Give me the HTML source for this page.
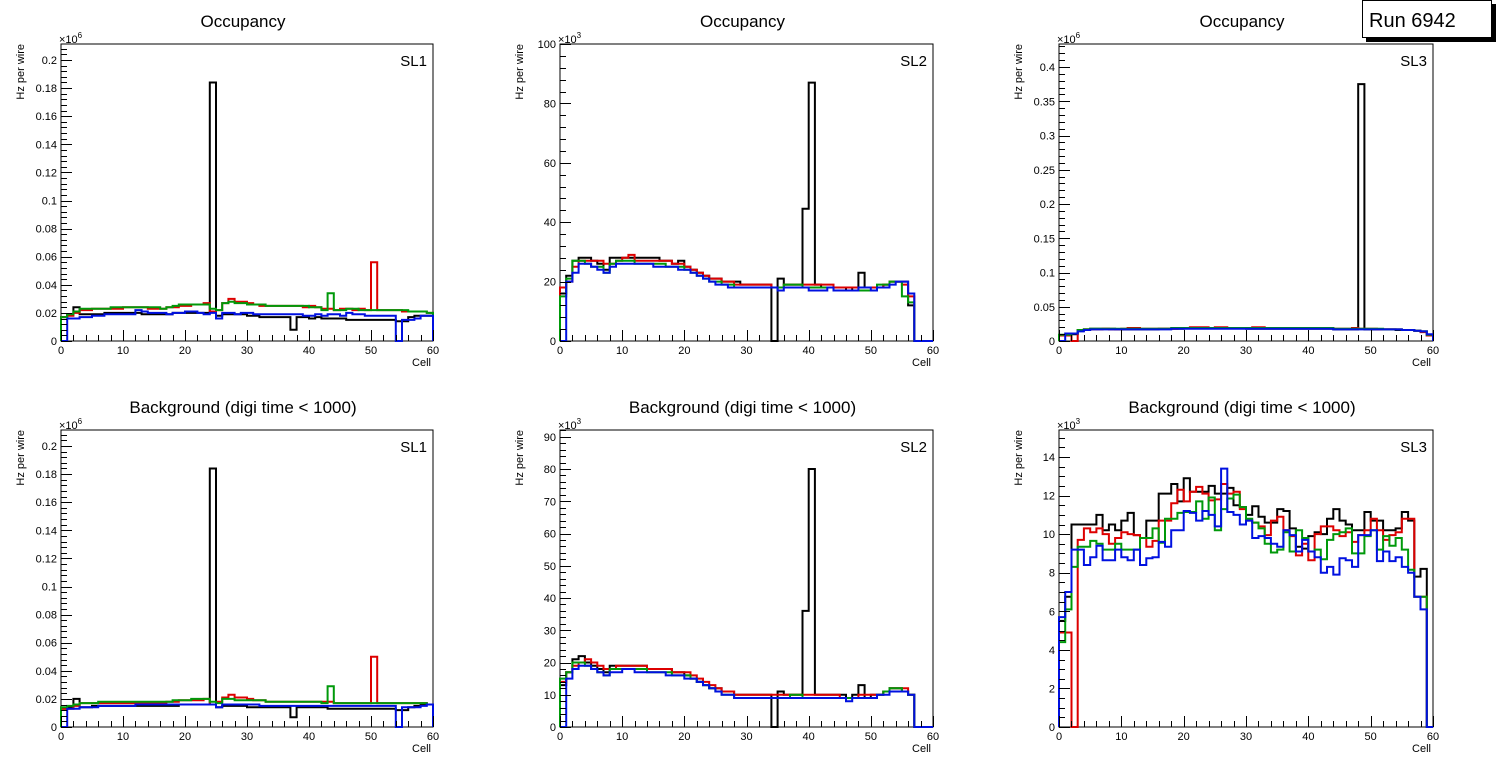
<!DOCTYPE html>
<html><head><meta charset="utf-8"><style>
body{margin:0;background:#fff;}
svg{display:block;font-family:"Liberation Sans",sans-serif;}
</style></head><body>
<svg id="c" width="1496" height="772" viewBox="0 0 1496 772"></svg>
<script>
// ---- data (values in plotted units) ----
const cells = Array.from({length:60},(_,i)=>i);
const seriesNames = ["black","red","green","blue"];
// Panel 1: Occupancy SL1 (units: 10^3 Hz, axis labels in 10^6)
const occSL1Black=[17,19,24,19,19,19,19,20,20,20,20,20,20,19,19,19,19,19,20,20,20,20,20,20,184,18,19,19,19,19,18,18,17,17,17,17,17,8,17,17,16,17,16,16,16,16,15,15,15,15,15,15,15,15,14,14,17,18,18,18];
const occSL1Red=[17,18,20,22,22,23,23,23,23,23,24,24,24,24,23,23,23,24,24,25,25,26,26,27,21,22,27,30,28,28,27,26,25,25,25,25,25,25,25,24,25,24,23,23,22,23,23,22,23,22,56,22,22,22,22,21,21,21,21,20];
const occSL1Green=[17,19,21,23,23,23,23,23,24,24,24,24,24,24,24,24,23,24,25,26,26,26,26,26,23,22,27,28,27,27,26,26,26,25,25,25,25,25,25,25,24,24,22,34,22,22,23,23,22,22,22,22,22,22,22,22,21,21,21,20];
const occSL1Blue=[0,16,16,17,17,18,18,19,19,19,19,19,22,21,20,20,20,19,20,20,21,21,20,19,20,16,20,20,19,20,20,19,19,19,19,19,19,19,19,18,18,19,18,19,19,18,20,19,19,18,18,18,18,18,0,15,15,16,18,18];
// Panel 2: Occupancy SL2 (units 10^3)
const occSL2Black=[16,22,27,28,28,27,26,24,28,28,28,28,28,28,28,28,27,27,26,27,25,24,23,22,21,21,20,20,20,19,19,19,19,19,0,21,19,19,19,44.5,87,19,18,18,18,18,17,18,23,18,18,18,19,20,20,20,12,0,0,0];
const occSL2Red=[18,20,25,27,27,27,27,26,26,27,28,29,27,27,27,27,27,27,26,26,25,24,23,22,21,21,20,20,19,19,19,19,19,19,18,18,19,19,19,19,19,19,19,19,18,18,18,18,18,18,18,18,19,20,20,19,15,0,0,0];
const occSL2Green=[15,21,27,27,26,25,25,23,26,27,27,27,26,26,26,26,26,25,25,25,24,23,22,21,20,20,19,19,18,18,18,18,18,18,18,18,19,19,19,18,18,18,18,18,17,17,17,17,17,17,17,19,19,20,20,15,13,0,0,0];
const occSL2Blue=[0,20,23,26,26,25,24,23,25,26,26,26,26,26,26,25,25,25,25,24,24,23,22,21,20,19,19,18,18,18,18,18,18,18,18,17,18,18,18,18,17,17,17,18,17,17,17,17,18,18,17,18,18,19,20,20,16,0,0,0];
// Panel 3: Occupancy SL3 (units 10^3 Hz, axis labels in 10^6)
const occSL3Black=[8,8,10,16,17,18,18,18,18,17,17,17,17,17,17,17,18,18,18,18,19,19,19,19,19,19,19,19,19,19,18,18,18,18,18,18,18,18,18,18,18,18,18,18,17,17,17,17,375,17,17,17,17,17,16,16,16,15,14,8];
const occSL3Red=[8,8,0,15,17,17,17,18,17,17,18,19,19,18,18,18,18,18,18,19,19,20,20,20,19,20,20,19,19,19,19,20,20,19,19,19,19,19,19,19,19,19,19,19,18,18,18,19,18,18,18,17,17,17,17,16,16,15,13,8];
const occSL3Green=[9,9,11,16,17,18,18,18,18,18,18,18,18,18,18,18,18,18,19,19,19,19,19,19,19,19,19,19,19,19,19,19,19,19,19,19,19,19,19,19,19,19,19,19,18,18,18,18,18,18,18,18,17,17,17,16,16,15,14,9];
const occSL3Blue=[0,11,11,14,16,17,17,17,17,17,17,17,17,17,17,17,17,17,18,18,18,18,18,18,18,18,18,18,18,18,18,18,18,18,18,18,18,18,18,18,18,18,18,18,17,17,17,17,17,17,17,17,17,17,17,16,16,15,14,10];
// Panel 4: Background SL1
const bkgSL1Black=[13,14,20,14,14,15,15,15,15,15,15,15,15,15,15,15,15,15,15,16,16,16,16,16,184,14,15,15,15,15,14,14,14,14,14,14,14,7,14,14,14,14,14,13,13,13,13,13,13,13,13,13,13,13,12,12,14,15,16,16];
const bkgSL1Red=[13,13,15,17,17,17,17,17,17,17,17,17,17,17,17,17,17,18,18,19,19,19,19,20,16,18,21,23,21,21,20,19,19,18,18,18,18,18,18,18,18,18,18,18,17,17,17,17,17,17,50,17,17,17,17,17,17,17,17,16];
const bkgSL1Green=[14,15,16,17,17,17,18,18,18,18,18,18,18,18,18,18,18,18,19,19,19,20,20,20,18,17,20,20,19,19,19,19,19,18,18,18,18,18,18,18,18,18,17,29,17,17,17,17,17,17,17,17,17,17,17,17,17,17,17,16];
const bkgSL1Blue=[0,13,13,14,14,14,15,15,15,15,15,15,16,16,16,16,16,16,16,16,16,16,16,16,16,14,16,16,16,16,16,16,15,15,15,15,15,15,15,15,15,15,15,15,15,15,15,15,15,15,15,15,15,15,0,14,14,14,15,16];
// Panel 5: Background SL2
const bkgSL2Black=[13,17,21,22,20,19,18,17,19,19,19,19,19,19,18,18,18,18,17,17,16,15,14,13,12,12,11,11,10,10,10,10,10,10,0,11,10,10,10,36,80,10,10,10,10,10,9,10,13,9,10,10,11,12,12,11,10,0,0,0];
const bkgSL2Red=[14,17,19,20,21,20,19,18,18,19,19,19,19,19,18,18,18,18,17,17,17,16,15,14,13,12,11,11,10,10,10,10,10,10,10,10,10,10,10,10,10,10,10,10,10,9,9,9,10,10,10,10,11,12,12,12,10,0,0,0];
const bkgSL2Green=[15,17,20,20,19,18,17,16,18,18,18,18,18,18,17,17,17,17,16,16,16,15,14,13,12,11,10,10,9,9,9,9,9,9,9,9,9,10,10,9,9,9,9,9,9,9,9,9,9,9,9,10,11,12,12,11,10,0,0,0];
const bkgSL2Blue=[0,15,18,19,19,18,17,16,17,17,18,18,17,17,17,17,17,16,16,16,15,15,14,13,12,11,10,10,9,9,9,9,9,9,9,9,9,9,9,9,9,9,9,9,9,9,8,9,9,9,9,10,10,11,11,11,10,0,0,0];
// Panel 6: Background SL3 (units 10^3)
const bkgSL3Black=[5.5,6.75,10.5,10.5,10.5,10.5,11.0,10.2,10.5,10.2,10.7,11.1,9.95,9.8,10.7,10.7,12.1,12.1,12.6,11.7,12.9,12.2,12.2,12.2,12.5,12.1,12.1,12.4,11.5,11.4,11.0,11.45,10.9,10.6,10.6,11.3,11.2,10.3,9.35,9.25,9.9,10.1,10.0,10.8,11.3,10.7,10.5,10.2,10.2,11.15,10.7,10.7,10.2,10.2,10.3,11.15,10.7,7.8,8.2,0];
const bkgSL3Red=[4.9,4.9,0,9.7,10.3,10.1,10.3,10.0,9.5,9.8,10.1,10.0,9.95,9.8,9.35,9.65,10.7,10.7,11.6,12.3,11.7,12.2,12.45,12.1,11.75,11.8,12.6,12.1,12.2,11.3,10.7,10.6,10.4,9.95,10.7,10.9,10.2,9.9,8.9,9.5,8.65,10.0,10.4,10.4,10.2,9.9,10.1,9.6,9.95,10.2,10.8,10.2,9.7,9.95,10.1,10.8,10.8,6.75,6.75,0];
const bkgSL3Green=[4.4,6.1,8.3,9.35,9.35,9.65,9.5,9.2,9.2,9.5,9.2,9.2,9.2,9.8,9.8,10.3,9.55,10.8,10.8,11.1,11.15,11.15,11.7,10.8,11.9,10.2,11.3,11.85,12.05,11.4,10.8,10.6,10.3,9.5,9.05,9.2,10.1,9.1,10.2,9.8,9.1,9.2,8.7,9.7,10.0,10.1,10.3,9.0,9.0,9.9,10.2,9.2,9.9,9.4,9.8,9.2,8.15,6.75,6.75,0];
const bkgSL3Blue=[5.7,7.0,9.2,9.2,8.4,8.8,9.4,8.65,8.65,9.2,8.8,8.65,9.2,8.4,8.75,8.8,9.6,9.35,10.2,10.2,11.2,11.1,10.7,11.2,11.0,10.4,13.4,11.15,11.0,10.5,10.7,9.8,9.9,9.8,9.5,9.35,10.2,9.95,9.1,9.7,9.1,8.8,8.0,8.3,7.9,8.75,8.65,8.3,9.95,9.95,10.2,8.6,9.1,8.6,8.8,8.3,8.0,6.75,6.1,0];
// tick labels
const xTickLabels=["0","10","20","30","40","50","60"];
const ySL1Labels=["0","0.02","0.04","0.06","0.08","0.1","0.12","0.14","0.16","0.18","0.2"];
const ySL2OccLabels=["0","20","40","60","80","100"];
const ySL3OccLabels=["0","0.05","0.1","0.15","0.2","0.25","0.3","0.35","0.4"];
const ySL2BkgLabels=["0","10","20","30","40","50","60","70","80","90"];
const ySL3BkgLabels=["0","2","4","6","8","10","12","14"];

const colors=["#000000","#dd0000","#00990a","#0010e0"];
const panels=[
 {key:"occ-sl1",title:"Occupancy",sl:"SL1",x0:61,x1:433,y0:44,y1:341,ymax:211.4,major:20,minor:4,labels:ySL1Labels,exp:"6",data:[occSL1Black,occSL1Red,occSL1Green,occSL1Blue]},
 {key:"occ-sl2",title:"Occupancy",sl:"SL2",x0:560,x1:933,y0:44,y1:341,ymax:100,major:20,minor:4,labels:ySL2OccLabels,exp:"3",data:[occSL2Black,occSL2Red,occSL2Green,occSL2Blue]},
 {key:"occ-sl3",title:"Occupancy",sl:"SL3",x0:1059,x1:1433,y0:44,y1:341,ymax:433.6,major:50,minor:10,labels:ySL3OccLabels,exp:"6",data:[occSL3Black,occSL3Red,occSL3Green,occSL3Blue]},
 {key:"bkg-sl1",title:"Background (digi time < 1000)",sl:"SL1",x0:61,x1:433,y0:430,y1:727,ymax:211.4,major:20,minor:4,labels:ySL1Labels,exp:"6",data:[bkgSL1Black,bkgSL1Red,bkgSL1Green,bkgSL1Blue]},
 {key:"bkg-sl2",title:"Background (digi time < 1000)",sl:"SL2",x0:560,x1:933,y0:430,y1:727,ymax:92.1,major:10,minor:2,labels:ySL2BkgLabels,exp:"3",data:[bkgSL2Black,bkgSL2Red,bkgSL2Green,bkgSL2Blue]},
 {key:"bkg-sl3",title:"Background (digi time < 1000)",sl:"SL3",x0:1059,x1:1433,y0:430,y1:727,ymax:15.4,major:2,minor:0.5,labels:ySL3BkgLabels,exp:"3",data:[bkgSL3Black,bkgSL3Red,bkgSL3Green,bkgSL3Blue]}
];
const NS="http://www.w3.org/2000/svg";
const svg=document.getElementById("c");
function mk(tag,attrs,parent){const e=document.createElementNS(NS,tag);for(const k in attrs)e.setAttribute(k,attrs[k]);(parent||svg).appendChild(e);return e;}

panels.forEach(p=>{
 const g=mk("g",{});
 
 
 const xs=v=>p.x0+(v/60)*(p.x1-p.x0);
 const ys=v=>p.y1-(Math.min(v,p.ymax)/p.ymax)*(p.y1-p.y0);
 // title
 const t=mk("text",{x:(p.x0+p.x1)/2-4,y:p.y0<100?27:413,"text-anchor":"middle","font-size":"17"},g);
 t.textContent=p.title;
 
 
 // frame
 const fr=mk("rect",{x:p.x0,y:p.y0,width:p.x1-p.x0,height:p.y1-p.y0,fill:"none",stroke:"#000","stroke-width":"1"},g);
 
 
 // histograms
 p.data.forEach((arr,si)=>{
  let d="M"+xs(0)+","+ys(0);
  arr.forEach((v,i)=>{d+=" V"+ys(v).toFixed(1)+" H"+xs(i+1).toFixed(1);});
  d+=" V"+ys(0);
  const path=mk("path",{d:d,fill:"none",stroke:colors[si],"stroke-width":"2","stroke-linejoin":"miter"},g);
  
  
 });
 // y axis ticks
 const ax=mk("g",{stroke:"#000","stroke-width":"1"},g);
 
 
 for(let v=0;v<=p.ymax+1e-9;v+=p.minor){
  const isMaj=Math.abs(v/p.major-Math.round(v/p.major))<1e-6;
  const y=Math.round(ys(v))+0.5;
  mk("line",{x1:p.x0,x2:p.x0+(isMaj?11:6),y1:y,y2:y},ax);
 }
 p.labels.forEach((lab,i)=>{
  const tx=mk("text",{x:p.x0-4,y:ys(i*p.major)+4,"text-anchor":"end","font-size":"11"},g);
  tx.textContent=lab;
  
  
 });
 // x axis ticks
 const axx=mk("g",{stroke:"#000","stroke-width":"1"},g);
 
 
 for(let v=0;v<=60;v+=2){
  const x=Math.round(xs(v))+0.5;
  mk("line",{x1:x,x2:x,y1:p.y1,y2:p.y1-(v%10===0?11:6)},axx);
 }
 xTickLabels.forEach((lab,i)=>{
  const tx=mk("text",{x:xs(i*10),y:p.y1+13,"text-anchor":"middle","font-size":"11"},g);
  tx.textContent=lab;
  
  
 });
 const xt=mk("text",{x:p.x1-2,y:p.y1+25,"text-anchor":"end","font-size":"11"},g);
 xt.textContent="Cell";
 
 
 const yt=mk("text",{x:0,y:0,"text-anchor":"end","font-size":"11",transform:"translate("+(p.x0-37)+","+(p.y0)+") rotate(-90)"},g);
 yt.textContent="Hz per wire";
 
 
 const ex=mk("text",{x:p.x0-2,y:p.y0-1,"font-size":"11"},g);
 ex.textContent="×10";
 const sup=mk("tspan",{dy:"-5","font-size":"8"},ex);
 sup.textContent=p.exp;
 
 
 const sl=mk("text",{x:p.x1-6,y:p.y0+22,"text-anchor":"end","font-size":"15"},g);
 sl.textContent=p.sl;
 
 
});
// Run box
const rg=mk("g",{});


mk("rect",{x:1366,y:4,width:130,height:38,fill:"#000"},rg);
mk("rect",{x:1362.5,y:0.5,width:129,height:37,fill:"#fff",stroke:"#000","stroke-width":"1"},rg);
const rt=mk("text",{x:1369,y:27,"font-size":"20"},rg);
rt.textContent="Run 6942";


</script>
</body></html>
